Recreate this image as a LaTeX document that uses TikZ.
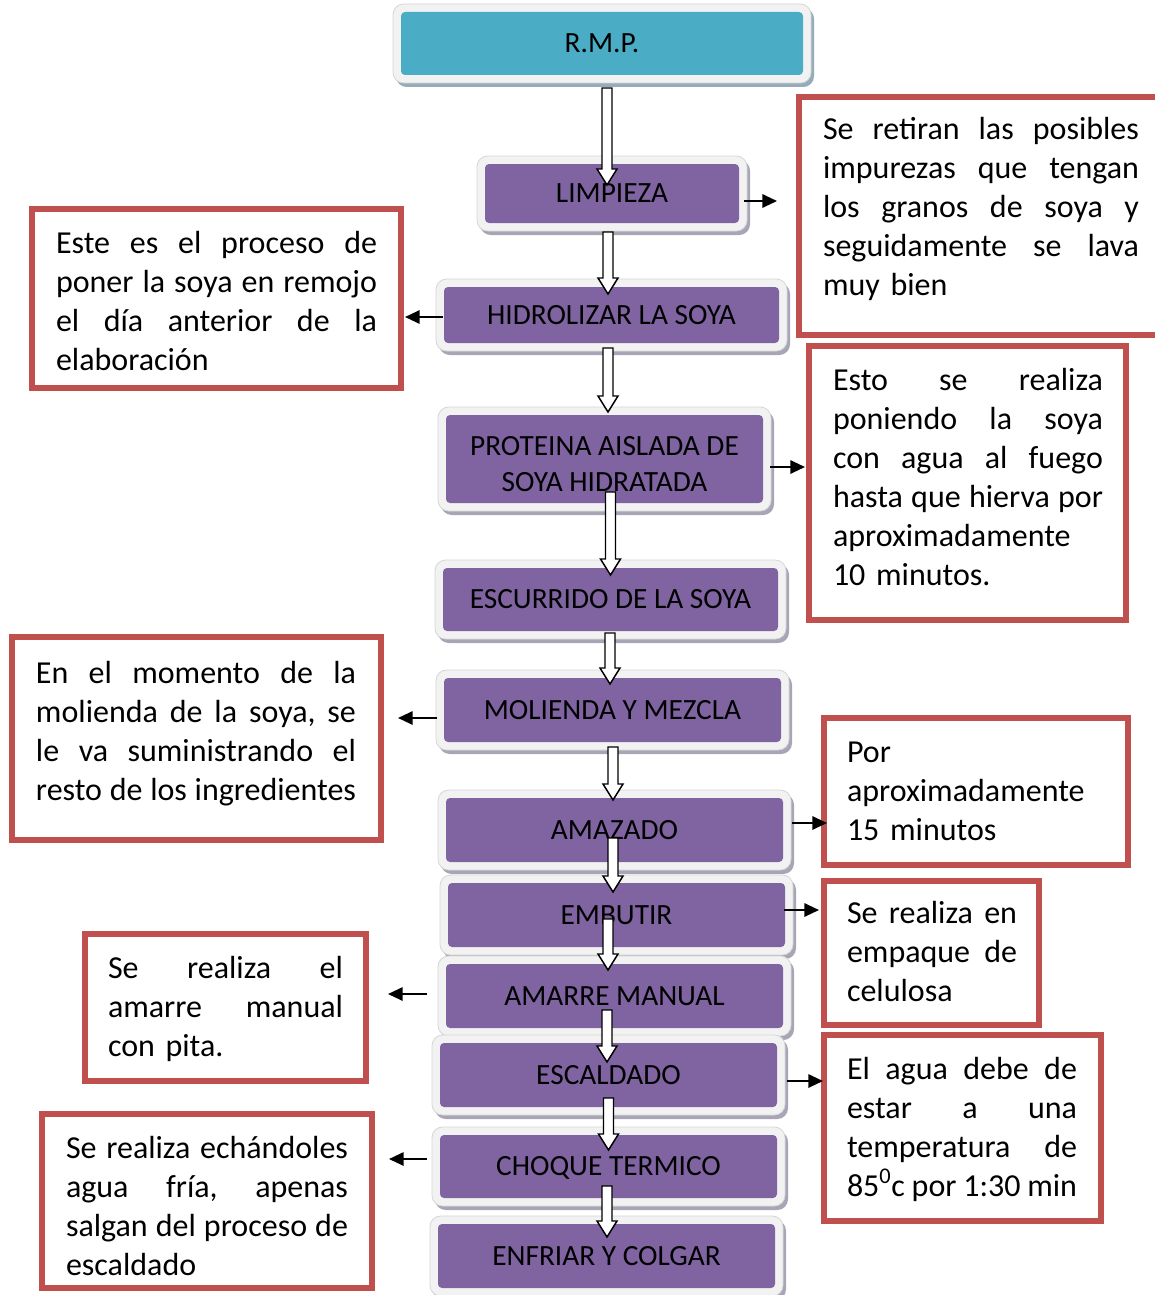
\documentclass[tikz,border=0pt]{standalone}
\usepackage{fontspec}
\setmainfont{Carlito}
\usetikzlibrary{arrows.meta,backgrounds}
\definecolor{procpurple}{HTML}{8064A2}
\definecolor{rmpteal}{HTML}{4BACC6}
\definecolor{notered}{HTML}{C0504D}
\definecolor{framefill}{HTML}{F2F2F2}
\definecolor{frameline}{HTML}{D6D6D6}
\definecolor{shadowgray}{HTML}{A8A5B6}
\definecolor{shadowteal}{HTML}{95ADB8}
\newcommand\px[1]{#1*0.75pt}
\newcommand\notefont{\fontsize{24}{29.25}\selectfont\frenchspacing}
\newcommand\procfont{\fontsize{22}{26.8}\selectfont}
\newcommand\J[1]{\makebox[\hsize][s]{\spaceskip=\fontdimen2\font plus 1fil minus 0.5\fontdimen2\font\relax\xspaceskip=\spaceskip #1}}
\newcommand\lowered[1]{\raisebox{-3.75pt}[\height][\depth]{#1}}
\newcommand\harrow[3]{%
  \draw[harr] ({#1-5},#2) -- ({#1+5},#2) -- ({#1+5},{#3-16}) -- ({#1+10},{#3-16})
    -- (#1,#3) -- ({#1-10},{#3-16}) -- ({#1-5},{#3-16}) -- cycle;}
\tikzset{
  proc/.style={rectangle, rounded corners=3pt, fill=procpurple, inner sep=0pt,
    outer sep=0pt, font=\procfont, align=center},
  onel/.style={text height=14.2pt, text depth=0pt},
  note/.style={rectangle, draw=notered, line width=4.5pt, fill=white,
    inner sep=0pt, outer sep=0pt},
  notetext/.style={anchor=north west, inner sep=0pt, outer sep=0pt,
    font=\notefont, text width=#1},
  blk/.style={line width=1.5pt, -{Triangle[length=11pt,width=10pt]}},
  harr/.style={draw=black, fill=white, line width=1.1pt, line join=miter},
  boxframe/.style={fill=framefill, draw=frameline, line width=0.6pt, rounded corners=8pt},
  boxshadow/.style={fill=shadowgray, rounded corners=8pt},
}
\begin{document}
\begin{tikzpicture}[x=0.75pt, y=-0.75pt]
\useasboundingbox (0,0) rectangle (1155,1295);
\clip (0,0) rectangle (1155,1295);

% process boxes
\node[proc, onel, fill=rmpteal, minimum width=\px{402}, minimum height=\px{63}] (rmp) at (602,43.5) {R.M.P.};
\node[proc, onel, minimum width=\px{254}, minimum height=\px{59}] (limp) at (612,193.5) {LIMPIEZA};
\node[proc, onel, minimum width=\px{335}, minimum height=\px{56}] (hidro) at (611.5,315) {HIDROLIZAR LA SOYA};
\node[proc, minimum width=\px{317}, minimum height=\px{88}] (prot) at (604.5,459) {\lowered{PROTEINA AISLADA DE}\\\lowered{SOYA HIDRATADA}};
\node[proc, onel, minimum width=\px{335}, minimum height=\px{63}] (escu) at (610.5,599.5) {ESCURRIDO DE LA SOYA};
\node[proc, onel, minimum width=\px{337}, minimum height=\px{64}] (mol) at (612.5,710) {MOLIENDA Y MEZCLA};
\node[proc, onel, minimum width=\px{337}, minimum height=\px{64}] (ama) at (614.5,830) {AMAZADO};
\node[proc, onel, minimum width=\px{337}, minimum height=\px{64}] (emb) at (616.5,915) {EMBUTIR};
\node[proc, onel, minimum width=\px{337}, minimum height=\px{64}] (amarre) at (614.5,996) {AMARRE MANUAL};
\node[proc, onel, minimum width=\px{337}, minimum height=\px{64}] (escal) at (608.5,1075) {ESCALDADO};
\node[proc, onel, minimum width=\px{337}, minimum height=\px{63}] (choque) at (608.5,1166.5) {CHOQUE TERMICO};
\node[proc, onel, minimum width=\px{337}, minimum height=\px{64}] (enf) at (606.5,1256) {ENFRIAR Y COLGAR};

% frames and shadows behind the process boxes
\begin{scope}[on background layer]
  \fill[white] (0,0) rectangle (1155,1295);
  \fill[boxshadow, fill=shadowteal] ([shift={(-5,-4)}]rmp.north west) rectangle ([shift={(11,12)}]rmp.south east);
  \draw[boxframe] ([shift={(-8,-8)}]rmp.north west) rectangle ([shift={(8,8)}]rmp.south east);
  \foreach \n in {limp,hidro,prot,escu,mol,ama,emb,amarre,escal,choque,enf}{
    \fill[boxshadow] ([shift={(-5,-4)}]\n.north west) rectangle ([shift={(11,12)}]\n.south east);
    \draw[boxframe] ([shift={(-8,-8)}]\n.north west) rectangle ([shift={(8,8)}]\n.south east);
  }
\end{scope}

% note boxes
\node[note, minimum width=\px{364}, minimum height=\px{238}] (r1) at (981,216) {};
\node[note, minimum width=\px{369}, minimum height=\px{179}] (r2) at (216.5,298.5) {};
\node[note, minimum width=\px{317}, minimum height=\px{274}] (r3) at (967.5,483) {};
\node[note, minimum width=\px{369}, minimum height=\px{203}] (r4) at (196.5,738.5) {};
\node[note, minimum width=\px{304}, minimum height=\px{147}] (r5) at (976,791.5) {};
\node[note, minimum width=\px{215}, minimum height=\px{144}] (r6) at (931.5,953) {};
\node[note, minimum width=\px{281}, minimum height=\px{147}] (r7) at (225.5,1007.5) {};
\node[note, minimum width=\px{277}, minimum height=\px{186}] (r8) at (962.5,1128) {};
\node[note, minimum width=\px{330}, minimum height=\px{174}] (r9) at (207,1201) {};

% note texts
\node[notetext={\px{316}}] (t1) at (823,111.7) {\strut\J{Se retiran las posibles}\\\J{impurezas que tengan}\\\J{los granos de soya y}\\\J{seguidamente se lava}\\muy bien};
\node[notetext={\px{321}}] (t2) at (56,225.7) {\strut\J{Este es el proceso de}\\\J{poner la soya en remojo}\\\J{el día anterior de la}\\elaboración};
\node[notetext={\px{270}}] (t3) at (833,362.7) {\strut\J{Esto se realiza}\\\J{poniendo la soya}\\\J{con agua al fuego}\\\J{hasta que hierva por}\\aproximadamente\\10 minutos.};
\node[notetext={\px{320}}] (t4) at (36,655.7) {\strut\J{En el momento de la}\\\J{molienda de la soya, se}\\\J{le va suministrando el}\\\J{resto de los ingredientes}};
\node[notetext={\px{250}}] (t5) at (847,734.7) {\strut Por\\aproximadamente\\15 minutos};
\node[notetext={\px{170}}] (t6) at (847,895.7) {\strut\J{Se realiza en}\\\J{empaque de}\\celulosa};
\node[notetext={\px{235}}] (t7) at (108,950.7) {\strut\J{Se realiza el}\\\J{amarre manual}\\con pita.};
\node[notetext={\px{230}}] (t8) at (847,1051.7) {\strut\J{El agua debe de}\\\J{estar a una}\\\J{temperatura de}\\\J{85\textsuperscript{0}c por 1:30 min}};
\node[notetext={\px{282}}] (t9) at (66,1130.7) {\strut\J{Se realiza echándoles}\\\J{agua fría, apenas}\\\J{salgan del proceso de}\\escaldado};

% side arrows
\draw[blk] ([shift={(5,7.5)}]limp.east) -- ([shift={(-22,7.5)}]limp.east -| r1.west);
\draw[blk] ([shift={(-1,2)}]hidro.west) -- ([shift={(4,2)}]hidro.west -| r2.east);
\draw[blk] ([shift={(7,8)}]prot.east) -- ([shift={(-4,8)}]prot.east -| r3.west);
\draw[blk] ([shift={(-7,8)}]mol.west) -- ([shift={(17,8)}]mol.west -| r4.east);
\draw[blk] ([shift={(9,-7)}]ama.east) -- ([shift={(3,-7)}]ama.east -| r5.west);
\draw[blk] ([shift={(-1,-5)}]emb.east) -- ([shift={(-5,-5)}]emb.east -| r6.west);
\draw[blk] ([shift={(-19,-2)}]amarre.west) -- ([shift={(22,-2)}]amarre.west -| r7.east);
\draw[blk] ([shift={(10,6)}]escal.east) -- ([shift={(-1,6)}]escal.east -| r8.west);
\draw[blk] ([shift={(-13,-7.5)}]choque.west) -- ([shift={(17,-7.5)}]choque.west -| r9.east);

% hollow flow arrows
\harrow{607}{88}{185}
\harrow{608}{232}{294}
\harrow{608}{348}{412}
\harrow{610.5}{492}{575}
\harrow{610}{633}{684}
\harrow{613}{747}{800}
\harrow{613}{838}{892}
\harrow{608}{919}{970}
\harrow{607}{1010}{1062}
\harrow{608.5}{1098}{1150}
\harrow{607}{1186}{1237}
\end{tikzpicture}
\end{document}
